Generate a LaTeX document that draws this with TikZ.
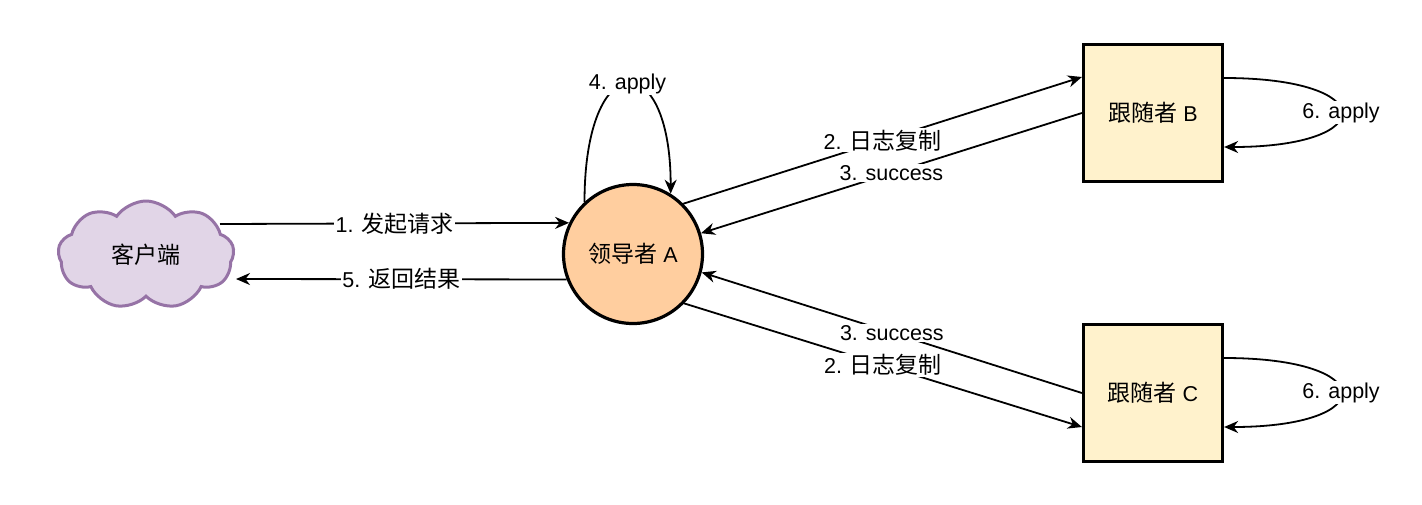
\documentclass[tikz,border=0pt]{standalone}
\usepackage{fontspec}
\setmainfont{Liberation Sans}
\newfontfamily\cjk[Scale=1.07]{Noto Sans CJK SC}
\usetikzlibrary{shapes.symbols,arrows.meta,calc}
\definecolor{cloudfill}{HTML}{E1D5E7}
\definecolor{cloudline}{HTML}{9673A6}
\definecolor{leaderfill}{HTML}{FFCE9F}
\definecolor{followfill}{HTML}{FFF2CC}
\begin{document}
\begin{tikzpicture}[x=1pt,y=-1pt,font=\fontsize{21.5}{25}\selectfont,
  conn/.style={line width=1.8pt,-{Stealth[length=14pt,width=12pt,inset=4.5pt]}},
  lab/.style={fill=white,inner sep=1.5pt},
  follower/.style={draw=black,line width=3.2pt,fill=followfill,minimum width=139pt,minimum height=137pt,inner sep=0pt},
  leader/.style={circle,draw=black,line width=3.2pt,fill=leaderfill,minimum size=139pt,inner sep=0pt},
  client/.style={cloud,cloud puffs=9,cloud puff arc=110,aspect=1.6,draw=cloudline,fill=cloudfill,line width=3pt,minimum width=176pt,minimum height=108pt}]
\useasboundingbox (0,0) rectangle (1422,504);

\node[client] (cl) at (146,255) {{\cjk 客户端}};
\node[leader] (A) at (633,254) {{\cjk 领导者} A};
\node[follower] (B) at (1153,113) {{\cjk 跟随者} B};
\node[follower] (C) at (1153,393) {{\cjk 跟随者} C};

% client <-> leader
\draw[conn] ($(cl.center)+(74,-31)$) -- node[lab] {1. {\cjk 发起请求}} (A.154);
\draw[conn] (A.201) -- node[lab] {5. {\cjk 返回结果}} ($(cl.center)+(90,24)$);

% leader self loop
\draw[conn] (A.133) .. controls +(0,-156) and +(0,-148) .. node[lab] {4. apply} (A.58);

% leader <-> B
\draw[conn] (A.45) -- node[lab] {2. {\cjk 日志复制}} ($(B.west)+(0,-36)$);
\draw[conn] (B.west) -- node[lab] {3. success} (A.17);

% leader <-> C
\draw[conn] (C.west) -- node[lab] {3. success} (A.-15);
\draw[conn] (A.-44) -- node[lab] {2. {\cjk 日志复制}} ($(C.west)+(0,34)$);

% follower self loops
\draw[conn] ($(B.east)+(0,-35)$) .. controls +(156,0) and +(156,0) .. node[lab] {6. apply} ($(B.east)+(0,34)$);
\draw[conn] ($(C.east)+(0,-35)$) .. controls +(156,0) and +(156,0) .. node[lab] {6. apply} ($(C.east)+(0,34)$);
\end{tikzpicture}
\end{document}
